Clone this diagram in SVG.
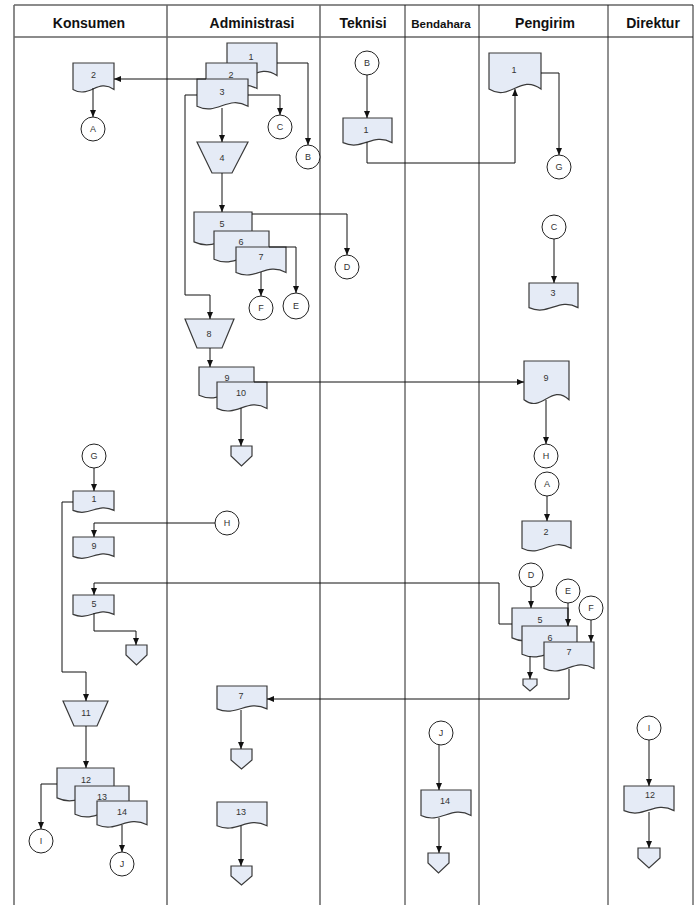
<svg xmlns="http://www.w3.org/2000/svg" width="699" height="905" viewBox="0 0 699 905">
<style>
.lane{stroke:#666;stroke-width:1.5;fill:none}
.lane2{stroke:#222;stroke-width:1;fill:none}
.hdr{font-family:"Liberation Sans",Arial,sans-serif;font-weight:bold;font-size:14px;fill:#111;text-anchor:middle}
.doc{fill:#e5ebf6;stroke:#3a3a3a;stroke-width:1.2}
.circ{fill:#fff;stroke:#222;stroke-width:1}
.lbl{font-family:"Liberation Sans",Arial,sans-serif;font-size:9px;fill:#333;text-anchor:middle}
.conn{fill:none;stroke:#111;stroke-width:1;marker-end:url(#arr)}
</style>
<defs>
<marker id="arr" markerUnits="userSpaceOnUse" markerWidth="7" markerHeight="6" refX="7" refY="3" orient="auto">
<path d="M0,0 L7,3 L0,6 Z" fill="#111"/>
</marker>
</defs>
<rect width="699" height="905" fill="#fff"/>
<g id="lanes">
<path class="lane" d="M14 5H693M14 37H693M14 5V905M167 5V905M320 5V905"/>
<path class="lane2" d="M405 5V905M479 5V905M608 5V905M693 5V905"/>
<text class="hdr" x="89" y="27.5">Konsumen</text>
<text class="hdr" x="252" y="27.5">Administrasi</text>
<text class="hdr" x="363" y="27.5">Teknisi</text>
<text class="hdr" x="441" y="27.5" style="font-size:11.5px">Bendahara</text>
<text class="hdr" x="545" y="27.5">Pengirim</text>
<text class="hdr" x="653" y="27.5">Direktur</text>
</g>
<g id="k-doc2"><path class="doc" d="M73 63H114V89.4C97.6 78 89.4 99 73 89.4Z"/><text class="lbl" x="93.5" y="78">2</text></g>
<g id="k-a"><circle class="circ" cx="93" cy="129" r="12"/><text class="lbl" x="93" y="132">A</text></g>
<g id="a-doc1"><path class="doc" d="M227 43H277V75.6C257 61.5 247 87.4 227 75.6Z"/><text class="lbl" x="251" y="60">1</text></g>
<g id="a-doc2"><path class="doc" d="M206 63H257V88.5C236.6 77.5 226.4 97.8 206 88.5Z"/><text class="lbl" x="231" y="78">2</text></g>
<g id="a-doc3"><path class="doc" d="M197 79H248V106.3C227.6 94.5 217.4 116.2 197 106.3Z"/><text class="lbl" x="222" y="95">3</text></g>
<g id="a-c"><circle class="circ" cx="280" cy="127" r="12"/><text class="lbl" x="280" y="130">C</text></g>
<g id="a-b"><circle class="circ" cx="308" cy="157" r="12"/><text class="lbl" x="308" y="160">B</text></g>
<g id="a-op4"><polygon class="doc" points="197,142 248,142 232,173 212,173"/><text class="lbl" x="222" y="161">4</text></g>
<g id="a-doc5"><path class="doc" d="M194 212H252V241.9C228.8 229 217.2 252.8 194 241.9Z"/><text class="lbl" x="222" y="227">5</text></g>
<g id="a-doc6"><path class="doc" d="M214 231H269V259.2C247 247 236 269.4 214 259.2Z"/><text class="lbl" x="241" y="245">6</text></g>
<g id="a-doc7"><path class="doc" d="M236 247H286V272.5C266 261.5 256 281.8 236 272.5Z"/><text class="lbl" x="261" y="260">7</text></g>
<g id="a-d"><circle class="circ" cx="347" cy="267" r="12"/><text class="lbl" x="347" y="270">D</text></g>
<g id="a-f"><circle class="circ" cx="261" cy="308" r="12"/><text class="lbl" x="261" y="311">F</text></g>
<g id="a-e"><circle class="circ" cx="296" cy="306" r="13"/><text class="lbl" x="296" y="309">E</text></g>
<g id="a-op8"><polygon class="doc" points="185,319 234,319 222,348 197,348"/><text class="lbl" x="209" y="337">8</text></g>
<g id="a-doc9"><path class="doc" d="M199 367H254V395.2C232 383 221 405.4 199 395.2Z"/><text class="lbl" x="227" y="381">9</text></g>
<g id="a-doc10"><path class="doc" d="M217 382H267V408.4C247 397 237 418 217 408.4Z"/><text class="lbl" x="241" y="396">10</text></g>
<g id="a-off1"><polygon class="doc" points="231,446 252,446 252,456 241.5,466 231,456"/></g>
<g id="t-b"><circle class="circ" cx="367" cy="63" r="12"/><text class="lbl" x="367" y="66">B</text></g>
<g id="t-doc1"><path class="doc" d="M343 118H392V142.6C372.4 132 362.6 151.6 343 142.6Z"/><text class="lbl" x="366" y="133">1</text></g>
<g id="p-doc1"><path class="doc" d="M489 53H541V89.1C520.2 73.5 509.8 102.2 489 89.1Z"/><text class="lbl" x="514" y="73">1</text></g>
<g id="p-g"><circle class="circ" cx="559" cy="167" r="12"/><text class="lbl" x="559" y="170">G</text></g>
<g id="p-c"><circle class="circ" cx="554" cy="227" r="12"/><text class="lbl" x="554" y="230">C</text></g>
<g id="p-doc3"><path class="doc" d="M529 283H578V307.6C558.4 297 548.6 316.6 529 307.6Z"/><text class="lbl" x="553" y="296">3</text></g>
<g id="p-doc9"><path class="doc" d="M524 361H569V399.7C551 383 542 413.8 524 399.7Z"/><text class="lbl" x="546" y="381">9</text></g>
<g id="p-h"><circle class="circ" cx="546" cy="456" r="12"/><text class="lbl" x="546" y="459">H</text></g>
<g id="p-a"><circle class="circ" cx="547" cy="484" r="12"/><text class="lbl" x="547" y="487">A</text></g>
<g id="p-doc2"><path class="doc" d="M522 521H571V548.3C551.4 536.5 541.6 558.2 522 548.3Z"/><text class="lbl" x="546" y="535">2</text></g>
<g id="p-d"><circle class="circ" cx="531" cy="575" r="12"/><text class="lbl" x="531" y="578">D</text></g>
<g id="p-e"><circle class="circ" cx="568" cy="591" r="12"/><text class="lbl" x="568" y="594">E</text></g>
<g id="p-f"><circle class="circ" cx="591" cy="608" r="12"/><text class="lbl" x="591" y="611">F</text></g>
<g id="p-doc5"><path class="doc" d="M512 608H568V637.9C545.6 625 534.4 648.8 512 637.9Z"/><text class="lbl" x="540" y="623">5</text></g>
<g id="p-doc6"><path class="doc" d="M522 626H577V654.2C555 642 544 664.4 522 654.2Z"/><text class="lbl" x="550" y="641">6</text></g>
<g id="p-doc7"><path class="doc" d="M544 642H594V668.4C574 657 564 678 544 668.4Z"/><text class="lbl" x="569" y="655">7</text></g>
<g id="p-off"><polygon class="doc" points="523,679 537,679 537,685 530,691 523,685"/></g>
<g id="k-g"><circle class="circ" cx="94" cy="456" r="12"/><text class="lbl" x="94" y="459">G</text></g>
<g id="k-doc1"><path class="doc" d="M73 491H114V510.4C97.6 502 89.4 517.4 73 510.4Z"/><text class="lbl" x="94" y="502">1</text></g>
<g id="a-h"><circle class="circ" cx="227" cy="523" r="12"/><text class="lbl" x="227" y="526">H</text></g>
<g id="k-doc9"><path class="doc" d="M73 537H114V556.4C97.6 548 89.4 563.4 73 556.4Z"/><text class="lbl" x="94" y="549">9</text></g>
<g id="k-doc5"><path class="doc" d="M73 595H114V614.4C97.6 606 89.4 621.4 73 614.4Z"/><text class="lbl" x="94" y="607">5</text></g>
<g id="k-off"><polygon class="doc" points="126,645 147,645 147,655 136.5,665 126,655"/></g>
<g id="k-op11"><polygon class="doc" points="63,701 108,701 97,726 74,726"/><text class="lbl" x="86" y="716">11</text></g>
<g id="k-doc12"><path class="doc" d="M57 768H114V797.9C91.2 785 79.8 808.8 57 797.9Z"/><text class="lbl" x="86" y="783">12</text></g>
<g id="k-doc13"><path class="doc" d="M75 786H129V814.2C107.4 802 96.6 824.4 75 814.2Z"/><text class="lbl" x="102" y="800">13</text></g>
<g id="k-doc14"><path class="doc" d="M97 801H147V824.8C127 814.5 117 833.4 97 824.8Z"/><text class="lbl" x="122" y="815">14</text></g>
<g id="k-i"><circle class="circ" cx="41" cy="841" r="12"/><text class="lbl" x="41" y="844">I</text></g>
<g id="k-j"><circle class="circ" cx="122" cy="864" r="12"/><text class="lbl" x="122" y="867">J</text></g>
<g id="a-doc7b"><path class="doc" d="M217 686H267V708.9C247 699 237 717.2 217 708.9Z"/><text class="lbl" x="241" y="699">7</text></g>
<g id="a-off2"><polygon class="doc" points="231,749 252,749 252,760 241.5,769 231,760"/></g>
<g id="a-doc13"><path class="doc" d="M217 802H267V825.8C247 815.5 237 834.4 217 825.8Z"/><text class="lbl" x="241" y="815">13</text></g>
<g id="a-off3"><polygon class="doc" points="231,866 252,866 252,876 241.5,885 231,876"/></g>
<g id="b-j"><circle class="circ" cx="441" cy="733" r="12"/><text class="lbl" x="441" y="736">J</text></g>
<g id="b-doc14"><path class="doc" d="M421 790H471V815.5C451 804.5 441 824.8 421 815.5Z"/><text class="lbl" x="445" y="804">14</text></g>
<g id="b-off"><polygon class="doc" points="428,853 449,853 449,863 438.5,873 428,863"/></g>
<g id="d-i"><circle class="circ" cx="649" cy="728" r="12"/><text class="lbl" x="649" y="731">I</text></g>
<g id="d-doc12"><path class="doc" d="M624 786H674V810.6C654 800 644 819.6 624 810.6Z"/><text class="lbl" x="650" y="798">12</text></g>
<g id="d-off"><polygon class="doc" points="638,848 660,848 660,858 649,868 638,858"/></g>
<g id="connectors">
<path class="conn" d="M93 88V117"/>
<path class="conn" d="M206 79H114"/>
<path class="conn" d="M277 63H308V145"/>
<path class="conn" d="M248 95H280V115"/>
<path class="conn" d="M222 108V142"/>
<path class="conn" d="M197 95H185V295H210V319"/>
<path class="conn" d="M222 173V212"/>
<path class="conn" d="M252 214H347V255"/>
<path class="conn" d="M269 247H296V293"/>
<path class="conn" d="M261 272V296"/>
<path class="conn" d="M210 348V367"/>
<path class="conn" d="M254 382H524"/>
<path class="conn" d="M241 408V446"/>
<path class="conn" d="M367 75V118"/>
<path class="conn" d="M367 142V163H515V89"/>
<path class="conn" d="M541 73H559V155"/>
<path class="conn" d="M554 239V283"/>
<path class="conn" d="M546 400V444"/>
<path class="conn" d="M547 496V521"/>
<path class="conn" d="M531 587V608"/>
<path class="conn" d="M568 603V626"/>
<path class="conn" d="M591 620V642"/>
<path class="conn" d="M530 656V679"/>
<path class="conn" d="M569 669V699H267"/>
<path class="conn" d="M512 624H499V583H94V595"/>
<path class="conn" d="M94 468V491"/>
<path class="conn" d="M73 502H62V672H86V701"/>
<path class="conn" d="M215 523H94V537"/>
<path class="conn" d="M94 613V631H136V645"/>
<path class="conn" d="M86 726V768"/>
<path class="conn" d="M57 784H41V829"/>
<path class="conn" d="M122 825V852"/>
<path class="conn" d="M241 710V749"/>
<path class="conn" d="M241 826V866"/>
<path class="conn" d="M439 745V790"/>
<path class="conn" d="M439 818V853"/>
<path class="conn" d="M649 740V786"/>
<path class="conn" d="M649 812V848"/>
</g>
</svg>
